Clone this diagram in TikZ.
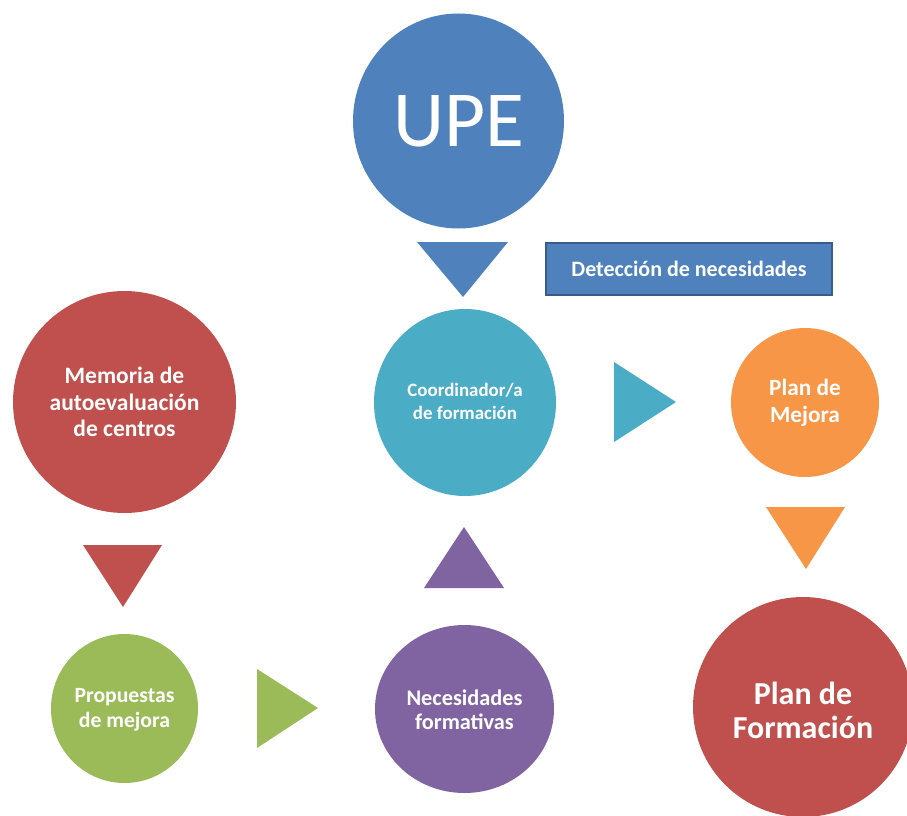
\documentclass[tikz,border=0pt]{standalone}
\usepackage{fontspec}
\setmainfont{Carlito}
\usetikzlibrary{shapes.geometric}
\definecolor{cblue}{HTML}{4F81BD}
\definecolor{cblueb}{HTML}{385D8A}
\definecolor{ccyan}{HTML}{4BACC6}
\definecolor{corange}{HTML}{F79646}
\definecolor{cred}{HTML}{C0504D}
\definecolor{cgreen}{HTML}{9BBB59}
\definecolor{cpurple}{HTML}{8064A2}
\tikzset{
  bub/.style={ellipse, inner sep=0pt, text=white, align=center, font=\bfseries},
}
\begin{document}
\begin{tikzpicture}[x=1pt,y=-1pt]
\useasboundingbox (0,0) rectangle (907,816);
\begin{scope}
\clip (0,0) rectangle (907,816);
% circles
\node[bub, fill=cblue, minimum width=211pt, minimum height=215pt, font=\fontsize{79.5}{90}\selectfont] (upe) at (458.5,121) {UPE};
\node[bub, fill=cred, minimum width=223pt, minimum height=222pt] (mem) at (124.5,402) {};
\node[bub, font=\bfseries\fontsize{23.5}{26.5}\selectfont] at (124.5,402) {Memoria de\\autoevaluación\\de centros};
\node[bub, fill=ccyan, minimum width=182pt, minimum height=187pt] (coord) at (465,402.5) {};
\node[bub, font=\bfseries\fontsize{18.9}{23}\selectfont] at (465,401) {Coordinador/a\\de formación};
\node[bub, fill=corange, minimum width=148pt, minimum height=149pt] (mejora) at (805,402.5) {};
\node[bub, font=\bfseries\fontsize{23.3}{27}\selectfont] at (805,402.5) {Plan de\\Mejora};
\node[bub, fill=cred, minimum width=220pt, minimum height=220pt] (form) at (803,707) {};
\node[bub, font=\bfseries\fontsize{32}{34}\selectfont] at (803,710) {Plan de\\Formación};
\node[bub, fill=cgreen, minimum width=147pt, minimum height=149pt] (prop) at (124.5,708.5) {};
\node[bub, font=\bfseries\fontsize{21.7}{25}\selectfont] at (124.5,709.5) {Propuestas\\de mejora};
\node[bub, fill=cpurple, minimum width=179pt, minimum height=168pt] (nec) at (464.5,709) {};
\node[bub, font=\bfseries\fontsize{22.3}{24}\selectfont] at (464.5,710) {Necesidades\\formativas};
\end{scope}
% label box
\node[draw=cblueb, line width=2.5pt, fill=cblue, minimum width=286pt, minimum height=52pt, text=white, font=\bfseries\fontsize{22}{26}\selectfont] (det) at (689,269) {Detección de necesidades};
% triangles
\fill[cblue] (417,242) -- (508,242) -- (463,297) -- cycle;
\fill[ccyan] (614,362) -- (676,402) -- (614,442) -- cycle;
\fill[corange] (766,507) -- (845,507) -- (806,569) -- cycle;
\fill[cred] (83,545) -- (162,545) -- (123,607) -- cycle;
\fill[cpurple] (424,588) -- (504,588) -- (464,527) -- cycle;
\fill[cgreen] (257,669) -- (318,708) -- (257,748) -- cycle;
\end{tikzpicture}
\end{document}
